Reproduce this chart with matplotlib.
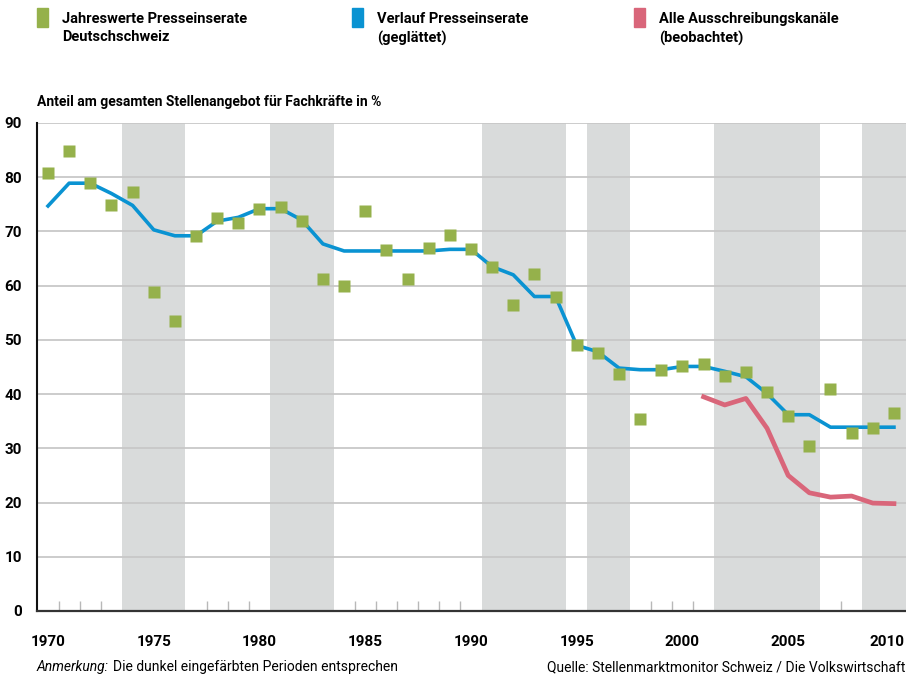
import matplotlib
matplotlib.use('Agg')
import matplotlib.pyplot as plt
from matplotlib.patches import Rectangle
from matplotlib.transforms import ScaledTranslation

# Daten
jahre = list(range(1970, 2011))
jahreswerte = [80.8, 84.9, 79.0, 74.9, 77.2, 58.9, 53.5, 69.2, 72.4, 71.6,
               74.2, 74.6, 72.0, 61.3, 60.0, 73.7, 66.5, 61.3, 66.9, 69.4,
               66.7, 63.5, 56.5, 62.1, 58.0, 49.1, 47.6, 43.8, 35.5, 44.5,
               45.1, 45.6, 43.4, 44.1, 40.3, 36.0, 30.5, 41.0, 32.9, 33.8,
               36.6]
verlauf = [74.7, 78.9, 78.9, 77.0, 74.8, 70.3, 69.2, 69.2, 71.9, 72.6,
           74.2, 74.2, 72.1, 67.7, 66.4, 66.4, 66.4, 66.4, 66.4, 66.7,
           66.7, 63.5, 62.0, 58.0, 58.0, 49.0, 47.8, 44.8, 44.5, 44.5,
           45.1, 45.1, 44.2, 43.2, 40.1, 36.2, 36.2, 33.9, 33.9, 33.9,
           33.9]
jahre_alle = list(range(2001, 2011))
alle_kanaele = [39.5, 38.0, 39.2, 33.7, 25.0, 21.8, 21.0, 21.2, 19.9, 19.8]

# dunkel eingefärbte Perioden (Start, Ende)
perioden = [(1973.5, 1976.5), (1980.5, 1983.5), (1990.5, 1994.5),
            (1995.5, 1997.5), (2001.5, 2006.5), (2008.5, 2011.0)]

x_labels = [1970, 1975, 1980, 1985, 1990, 1995, 2000, 2005, 2010]
y_ticks = [0, 10, 20, 30, 40, 50, 60, 70, 80, 90]

gruen = '#95b14b'
blau = '#0a93d2'
rosa = '#d9667a'
grau = '#d9dbdb'

plt.rcParams['font.family'] = ['Roboto', 'DejaVu Sans']

fig = plt.figure(figsize=(9.06, 6.77), dpi=100)
ax = fig.add_axes([37 / 906, 1 - 611 / 677, 1 - 37 / 906, (611 - 123) / 677])

for start, ende in perioden:
    ax.axvspan(start, ende, color=grau, lw=0, zorder=0)

ax.set_ylim(0, 90)
ax.set_xlim(1969.48, 2010.57)

for y in y_ticks[1:]:
    ax.axhline(y, color='#c8c8c8', lw=1.3, zorder=1)

ax.plot(jahre, verlauf, color=blau, lw=2.6, zorder=3)
ax.plot(jahre_alle, alle_kanaele, color=rosa, lw=3.4, zorder=3)
ax.plot(jahre, jahreswerte, ls='none', marker='s', ms=8.6, color=gruen,
        mec='none', zorder=4)

# Achsen
for s in ['top', 'right']:
    ax.spines[s].set_visible(False)
ax.spines['left'].set_color('#111111')
ax.spines['left'].set_linewidth(1.5)
ax.spines['bottom'].set_color('#333333')
ax.spines['bottom'].set_linewidth(1.6)

ax.set_yticks(y_ticks)
ax.set_yticklabels([str(v) for v in y_ticks], fontsize=11, fontweight='bold')
ax.tick_params(axis='y', length=0, pad=11)

ax.set_xticks(x_labels)
ax.set_xticklabels([str(v) for v in x_labels], fontsize=11, fontweight='bold')
ax.tick_params(axis='x', which='major', length=0, pad=17)
# letzte Beschriftung an den rechten Rand schieben
letzte = ax.get_xticklabels()[-1]
letzte.set_ha('right')
letzte.set_transform(letzte.get_transform() + ScaledTranslation(0.11, 0, fig.dpi_scale_trans))

# kleine Striche an den Jahresgrenzen, ausser in den grauen Perioden
minor = [j + 0.5 for j in jahre[:-1]
         if not any(a <= j + 0.5 <= b for a, b in perioden)]
ax.set_xticks(minor, minor=True)
ax.tick_params(axis='x', which='minor', direction='in', length=7,
               width=1.0, color='#b8b8b8')

# Titel der Achse
fig.text(37 / 906, 1 - 102 / 677, 'Anteil am gesamten Stellenangebot für Fachkräfte in %',
         fontsize=10, fontweight='bold', va='center', ha='left')

# Legende
legende = [(37, gruen, 'Jahreswerte Presseinserate\nDeutschschweiz'),
           (352, blau, 'Verlauf Presseinserate\n(geglättet)'),
           (634, rosa, 'Alle Ausschreibungskanäle\n(beobachtet)')]
for x0, farbe, text in legende:
    fig.patches.append(Rectangle((x0 / 906, 1 - 27 / 677), 11 / 906, 19 / 677,
                                 transform=fig.transFigure, color=farbe))
    fig.text((x0 + 25) / 906, 1 - 12 / 677, text, fontsize=10.5, fontweight='bold',
             va='top', ha='left', linespacing=1.4)

# Fusszeile
t = fig.text(37 / 906, 1 - 667 / 677, 'Anmerkung:', fontsize=10, style='italic',
             va='center', ha='left')
fig.canvas.draw()
bb = t.get_window_extent()
fig.text((bb.x1 + 4) / 906, 1 - 667 / 677, 'Die dunkel eingefärbten Perioden entsprechen',
         fontsize=10, va='center', ha='left')
fig.text(905 / 906, 1 - 667 / 677, 'Quelle: Stellenmarktmonitor Schweiz / Die Volkswirtschaft',
         fontsize=10, va='center', ha='right')

fig.savefig('out.png', dpi=100)
